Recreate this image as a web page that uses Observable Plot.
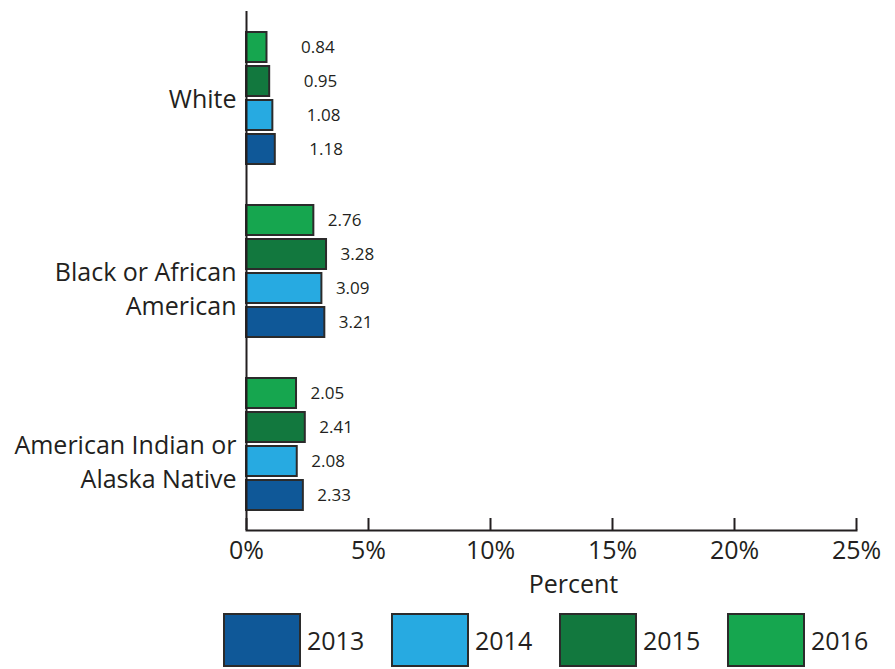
<!DOCTYPE html>
<html>
<head>
<meta charset="utf-8">
<script src="https://cdn.jsdelivr.net/npm/d3@7"></script>
<script src="https://cdn.jsdelivr.net/npm/@observablehq/plot@0.6"></script>
<style>
  body { margin: 0; background: #fff; font-family: "Open Sans", sans-serif; color: #231f20; }
  #wrap { width: 895px; position: relative; }
  #legend { display: flex; align-items: center; margin-left: 223px; margin-top: 13px; height: 54px; }
  .item { display: flex; align-items: center; width: 174px; }
  .swatch { width: 74px; height: 50px; border: 2px solid #2b2b2b; box-sizing: content-box; }
  .lab { font-size: 25px; margin-left: 6px; color: #231f20; }
  g[aria-label="x-axis label"] { translate: 22px 0; }
</style>
</head>
<body>
<div id="wrap"><div id="chart"></div><div id="legend"></div></div>
<script>
const categories = ["White", "Black or African American", "American Indian or Alaska Native"];
const categoryLabels = ["White", "Black or African\nAmerican", "American Indian or\nAlaska Native"];
const years = ["2013", "2014", "2015", "2016"];
const values2013 = [1.18, 3.21, 2.33];
const values2014 = [1.08, 3.09, 2.08];
const values2015 = [0.95, 3.28, 2.41];
const values2016 = [0.84, 2.76, 2.05];
const xTicks = [0, 5, 10, 15, 20, 25];
const colors = ["#0f5898", "#27aae1", "#12783e", "#16a64f"];

const seriesByYear = [values2013, values2014, values2015, values2016];
const rows = [];
categories.forEach((c, i) => {
  years.forEach((y, j) => rows.push({category: c, year: y, value: seriesByYear[j][i]}));
});
const labelMap = Object.fromEntries(categories.map((c, i) => [c, categoryLabels[i]]));
const lastCat = categories[categories.length - 1];

const chart = Plot.plot({
  width: 895,
  height: 600,
  marginLeft: 246,
  marginRight: 39,
  marginTop: 10,
  marginBottom: 69,
  style: {fontFamily: "Open Sans, sans-serif", color: "#231f20", background: "#fff"},
  x: {domain: [0, 25]},
  fy: {domain: categories, padding: 0},
  y: {domain: ["2016", "2015", "2014", "2013"], paddingInner: 0.13, paddingOuter: 0.55, axis: null},
  color: {domain: years, range: colors},
  marks: [
    Plot.barX(rows, {x: "value", y: "year", fy: "category", fill: "year", stroke: "#2b2b2b", strokeWidth: 2}),
    Plot.text(rows.filter(d => d.category === "White"), {x: "value", y: "year", fy: "category", text: d => d.value.toFixed(2), textAnchor: "start", dx: 34, fontSize: 17, fill: "#231f20"}),
    Plot.text(rows.filter(d => d.category !== "White"), {x: "value", y: "year", fy: "category", text: d => d.value.toFixed(2), textAnchor: "start", dx: 14, fontSize: 17, fill: "#231f20"}),
    Plot.ruleX([0], {stroke: "#231f20", strokeWidth: 2}),
    Plot.frame({anchor: "bottom", stroke: "#231f20", strokeWidth: 2, fy: [lastCat]}),
    Plot.axisX({anchor: "bottom", ticks: xTicks, tickFormat: d => d + "%", tickSize: -12, tickPadding: 23, strokeWidth: 2, stroke: "#231f20", fontSize: 25, label: "Percent", labelAnchor: "center", labelArrow: "none", labelOffset: 62}),
    Plot.axisFy({anchor: "left", tickSize: 0, tickPadding: 10, fontSize: 25, label: null, tickFormat: d => labelMap[d], lineAnchor: "top", lineHeight: 1.36, dy: -14})
  ]
});
document.getElementById("chart").appendChild(chart);

const legend = d3.select("#legend");
years.forEach((y, i) => {
  const it = legend.append("div").attr("class", "item");
  it.append("div").attr("class", "swatch").style("background", colors[i]);
  it.append("div").attr("class", "lab").text(y);
});
</script>
</body>
</html>
